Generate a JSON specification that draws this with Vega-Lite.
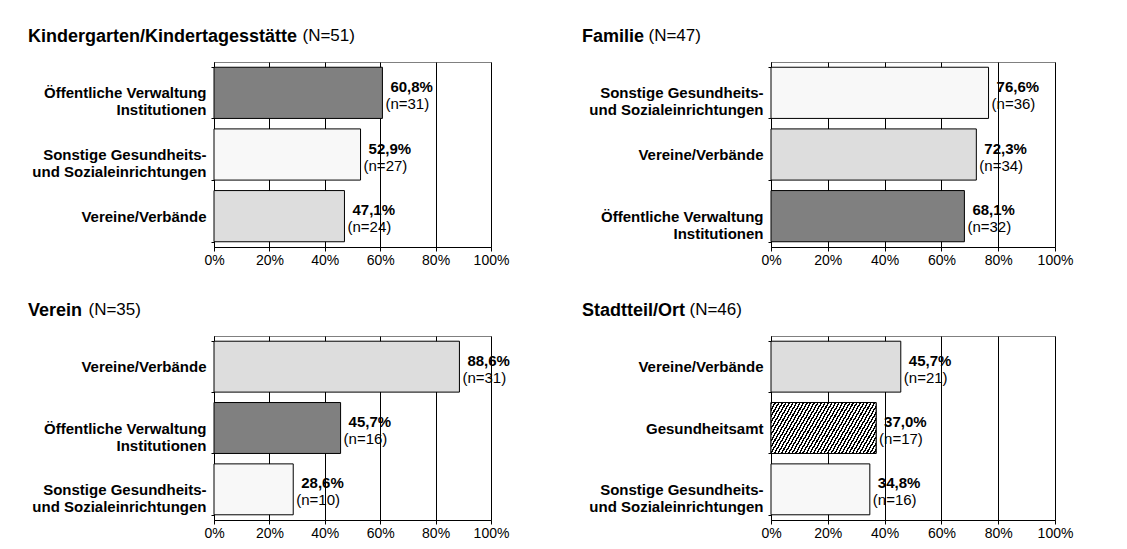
{
  "$schema": "https://vega.github.io/schema/vega-lite/v6.json",
  "background": "white",
  "padding": {"left": 27, "top": 25, "right": 0, "bottom": 0},
  "data": {
    "values": [
      {"panel": "Kindergarten/Kindertagesstätte", "category": "Öffentliche Verwaltung Institutionen", "pct": 60.8, "n": 31},
      {"panel": "Kindergarten/Kindertagesstätte", "category": "Sonstige Gesundheits- und Sozialeinrichtungen", "pct": 52.9, "n": 27},
      {"panel": "Kindergarten/Kindertagesstätte", "category": "Vereine/Verbände", "pct": 47.1, "n": 24},
      {"panel": "Familie", "category": "Sonstige Gesundheits- und Sozialeinrichtungen", "pct": 76.6, "n": 36},
      {"panel": "Familie", "category": "Vereine/Verbände", "pct": 72.3, "n": 34},
      {"panel": "Familie", "category": "Öffentliche Verwaltung Institutionen", "pct": 68.1, "n": 32},
      {"panel": "Verein", "category": "Vereine/Verbände", "pct": 88.6, "n": 31},
      {"panel": "Verein", "category": "Öffentliche Verwaltung Institutionen", "pct": 45.7, "n": 16},
      {"panel": "Verein", "category": "Sonstige Gesundheits- und Sozialeinrichtungen", "pct": 28.6, "n": 10},
      {"panel": "Stadtteil/Ort", "category": "Vereine/Verbände", "pct": 45.7, "n": 21},
      {"panel": "Stadtteil/Ort", "category": "Gesundheitsamt", "pct": 37.0, "n": 17},
      {"panel": "Stadtteil/Ort", "category": "Sonstige Gesundheits- und Sozialeinrichtungen", "pct": 34.8, "n": 16}
    ]
  },
  "columns": 2,
  "bounds": "flush",
  "spacing": {"row": 89, "column": 280},
  "resolve": {"scale": {"x": "independent", "y": "independent"}},
  "concat": [
    {
      "width": 277, "height": 185,
      "title": {"text": "Kindergarten/Kindertagesstätte", "dx": -186},
      "transform": [{"filter": "datum.panel == 'Kindergarten/Kindertagesstätte'"}],
      "encoding": {
        "y": {"field": "category", "type": "nominal", "sort": ["Öffentliche Verwaltung Institutionen", "Sonstige Gesundheits- und Sozialeinrichtungen", "Vereine/Verbände"],
          "scale": {"paddingInner": 0.17, "paddingOuter": 0.085},
          "axis": {"title": "(N=51)", "titleX": 88, "labelExpr": "datum.label == 'Öffentliche Verwaltung Institutionen' ? ['Öffentliche Verwaltung', 'Institutionen'] : datum.label == 'Sonstige Gesundheits- und Sozialeinrichtungen' ? ['Sonstige Gesundheits-', 'und Sozialeinrichtungen'] : datum.label"}},
        "x": {"field": "pct", "type": "quantitative", "scale": {"domain": [0, 100]}, "axis": {"title": null, "values": [0, 20, 40, 60, 80, 100], "labelExpr": "datum.value + '%'"}}
      },
      "layer": [
        {"mark": {"type": "bar", "stroke": "#000", "strokeWidth": 1}, "encoding": {"color": {"field": "category", "type": "nominal", "legend": null, "scale": {"domain": ["Öffentliche Verwaltung Institutionen", "Sonstige Gesundheits- und Sozialeinrichtungen", "Vereine/Verbände", "Gesundheitsamt"], "range": ["#808080", "#f8f8f8", "#dddddd", "#ffffff"]}}}},
        {"mark": {"type": "text", "align": "left", "baseline": "middle", "dx": 8, "dy": -6, "fontSize": 15, "fontWeight": "bold", "color": "#000", "text": {"expr": "replace(format(datum.pct, '.1f'), '.', ',') + '%'"}}},
        {"mark": {"type": "text", "align": "left", "baseline": "middle", "dx": 3, "dy": 11, "fontSize": 15, "color": "#000", "text": {"expr": "'(n=' + datum.n + ')'"}}}
      ]
    },
    {
      "width": 284, "height": 185,
      "title": {"text": "Familie", "dx": -189},
      "transform": [{"filter": "datum.panel == 'Familie'"}],
      "encoding": {
        "y": {"field": "category", "type": "nominal", "sort": ["Sonstige Gesundheits- und Sozialeinrichtungen", "Vereine/Verbände", "Öffentliche Verwaltung Institutionen"],
          "scale": {"paddingInner": 0.17, "paddingOuter": 0.085},
          "axis": {"title": "(N=47)", "titleX": -123, "labelExpr": "datum.label == 'Öffentliche Verwaltung Institutionen' ? ['Öffentliche Verwaltung', 'Institutionen'] : datum.label == 'Sonstige Gesundheits- und Sozialeinrichtungen' ? ['Sonstige Gesundheits-', 'und Sozialeinrichtungen'] : datum.label"}},
        "x": {"field": "pct", "type": "quantitative", "scale": {"domain": [0, 100]}, "axis": {"title": null, "values": [0, 20, 40, 60, 80, 100], "labelExpr": "datum.value + '%'"}}
      },
      "layer": [
        {"mark": {"type": "bar", "stroke": "#000", "strokeWidth": 1}, "encoding": {"color": {"field": "category", "type": "nominal", "legend": null, "scale": {"domain": ["Öffentliche Verwaltung Institutionen", "Sonstige Gesundheits- und Sozialeinrichtungen", "Vereine/Verbände", "Gesundheitsamt"], "range": ["#808080", "#f8f8f8", "#dddddd", "#ffffff"]}}}},
        {"mark": {"type": "text", "align": "left", "baseline": "middle", "dx": 8, "dy": -6, "fontSize": 15, "fontWeight": "bold", "color": "#000", "text": {"expr": "replace(format(datum.pct, '.1f'), '.', ',') + '%'"}}},
        {"mark": {"type": "text", "align": "left", "baseline": "middle", "dx": 3, "dy": 11, "fontSize": 15, "color": "#000", "text": {"expr": "'(n=' + datum.n + ')'"}}}
      ]
    },
    {
      "width": 277, "height": 184,
      "title": {"text": "Verein", "dx": -186},
      "transform": [{"filter": "datum.panel == 'Verein'"}],
      "encoding": {
        "y": {"field": "category", "type": "nominal", "sort": ["Vereine/Verbände", "Öffentliche Verwaltung Institutionen", "Sonstige Gesundheits- und Sozialeinrichtungen"],
          "scale": {"paddingInner": 0.17, "paddingOuter": 0.085},
          "axis": {"title": "(N=35)", "titleX": -126, "labelExpr": "datum.label == 'Öffentliche Verwaltung Institutionen' ? ['Öffentliche Verwaltung', 'Institutionen'] : datum.label == 'Sonstige Gesundheits- und Sozialeinrichtungen' ? ['Sonstige Gesundheits-', 'und Sozialeinrichtungen'] : datum.label"}},
        "x": {"field": "pct", "type": "quantitative", "scale": {"domain": [0, 100]}, "axis": {"title": null, "values": [0, 20, 40, 60, 80, 100], "labelExpr": "datum.value + '%'"}}
      },
      "layer": [
        {"mark": {"type": "bar", "stroke": "#000", "strokeWidth": 1}, "encoding": {"color": {"field": "category", "type": "nominal", "legend": null, "scale": {"domain": ["Öffentliche Verwaltung Institutionen", "Sonstige Gesundheits- und Sozialeinrichtungen", "Vereine/Verbände", "Gesundheitsamt"], "range": ["#808080", "#f8f8f8", "#dddddd", "#ffffff"]}}}},
        {"mark": {"type": "text", "align": "left", "baseline": "middle", "dx": 8, "dy": -6, "fontSize": 15, "fontWeight": "bold", "color": "#000", "text": {"expr": "replace(format(datum.pct, '.1f'), '.', ',') + '%'"}}},
        {"mark": {"type": "text", "align": "left", "baseline": "middle", "dx": 3, "dy": 11, "fontSize": 15, "color": "#000", "text": {"expr": "'(n=' + datum.n + ')'"}}}
      ]
    },
    {
      "width": 284, "height": 184,
      "title": {"text": "Stadtteil/Ort", "dx": -189},
      "transform": [{"filter": "datum.panel == 'Stadtteil/Ort'"}],
      "encoding": {
        "y": {"field": "category", "type": "nominal", "sort": ["Vereine/Verbände", "Gesundheitsamt", "Sonstige Gesundheits- und Sozialeinrichtungen"],
          "scale": {"paddingInner": 0.17, "paddingOuter": 0.085},
          "axis": {"title": "(N=46)", "titleX": -82, "labelExpr": "datum.label == 'Öffentliche Verwaltung Institutionen' ? ['Öffentliche Verwaltung', 'Institutionen'] : datum.label == 'Sonstige Gesundheits- und Sozialeinrichtungen' ? ['Sonstige Gesundheits-', 'und Sozialeinrichtungen'] : datum.label"}},
        "x": {"field": "pct", "type": "quantitative", "scale": {"domain": [0, 100]}, "axis": {"title": null, "values": [0, 20, 40, 60, 80, 100], "labelExpr": "datum.value + '%'"}}
      },
      "layer": [
        {"mark": {"type": "bar", "stroke": "#000", "strokeWidth": 1}, "encoding": {"color": {"field": "category", "type": "nominal", "legend": null, "scale": {"domain": ["Öffentliche Verwaltung Institutionen", "Sonstige Gesundheits- und Sozialeinrichtungen", "Vereine/Verbände", "Gesundheitsamt"], "range": ["#808080", "#f8f8f8", "#dddddd", "#ffffff"]}}}},
        {"transform": [{"filter": "datum.category == 'Gesundheitsamt'"}],
         "mark": {"type": "bar", "stroke": "#000", "strokeWidth": 1, "fill": {"gradient": "linear", "x1": 0, "y1": 0, "x2": 1.19, "y2": 0.333, "stops": [
          {"offset": 0, "color": "#000"}, {"offset": 0.0118, "color": "#000"}, {"offset": 0.0118, "color": "#fff"}, {"offset": 0.0263, "color": "#fff"},
          {"offset": 0.0263, "color": "#000"}, {"offset": 0.0382, "color": "#000"}, {"offset": 0.0382, "color": "#fff"}, {"offset": 0.0526, "color": "#fff"},
          {"offset": 0.0526, "color": "#000"}, {"offset": 0.0645, "color": "#000"}, {"offset": 0.0645, "color": "#fff"}, {"offset": 0.0789, "color": "#fff"},
          {"offset": 0.0789, "color": "#000"}, {"offset": 0.0908, "color": "#000"}, {"offset": 0.0908, "color": "#fff"}, {"offset": 0.1053, "color": "#fff"},
          {"offset": 0.1053, "color": "#000"}, {"offset": 0.1171, "color": "#000"}, {"offset": 0.1171, "color": "#fff"}, {"offset": 0.1316, "color": "#fff"},
          {"offset": 0.1316, "color": "#000"}, {"offset": 0.1434, "color": "#000"}, {"offset": 0.1434, "color": "#fff"}, {"offset": 0.1579, "color": "#fff"},
          {"offset": 0.1579, "color": "#000"}, {"offset": 0.1697, "color": "#000"}, {"offset": 0.1697, "color": "#fff"}, {"offset": 0.1842, "color": "#fff"},
          {"offset": 0.1842, "color": "#000"}, {"offset": 0.1961, "color": "#000"}, {"offset": 0.1961, "color": "#fff"}, {"offset": 0.2105, "color": "#fff"},
          {"offset": 0.2105, "color": "#000"}, {"offset": 0.2224, "color": "#000"}, {"offset": 0.2224, "color": "#fff"}, {"offset": 0.2368, "color": "#fff"},
          {"offset": 0.2368, "color": "#000"}, {"offset": 0.2487, "color": "#000"}, {"offset": 0.2487, "color": "#fff"}, {"offset": 0.2632, "color": "#fff"},
          {"offset": 0.2632, "color": "#000"}, {"offset": 0.2750, "color": "#000"}, {"offset": 0.2750, "color": "#fff"}, {"offset": 0.2895, "color": "#fff"},
          {"offset": 0.2895, "color": "#000"}, {"offset": 0.3013, "color": "#000"}, {"offset": 0.3013, "color": "#fff"}, {"offset": 0.3158, "color": "#fff"},
          {"offset": 0.3158, "color": "#000"}, {"offset": 0.3276, "color": "#000"}, {"offset": 0.3276, "color": "#fff"}, {"offset": 0.3421, "color": "#fff"},
          {"offset": 0.3421, "color": "#000"}, {"offset": 0.3539, "color": "#000"}, {"offset": 0.3539, "color": "#fff"}, {"offset": 0.3684, "color": "#fff"},
          {"offset": 0.3684, "color": "#000"}, {"offset": 0.3803, "color": "#000"}, {"offset": 0.3803, "color": "#fff"}, {"offset": 0.3947, "color": "#fff"},
          {"offset": 0.3947, "color": "#000"}, {"offset": 0.4066, "color": "#000"}, {"offset": 0.4066, "color": "#fff"}, {"offset": 0.4211, "color": "#fff"},
          {"offset": 0.4211, "color": "#000"}, {"offset": 0.4329, "color": "#000"}, {"offset": 0.4329, "color": "#fff"}, {"offset": 0.4474, "color": "#fff"},
          {"offset": 0.4474, "color": "#000"}, {"offset": 0.4592, "color": "#000"}, {"offset": 0.4592, "color": "#fff"}, {"offset": 0.4737, "color": "#fff"},
          {"offset": 0.4737, "color": "#000"}, {"offset": 0.4855, "color": "#000"}, {"offset": 0.4855, "color": "#fff"}, {"offset": 0.5, "color": "#fff"},
          {"offset": 0.5, "color": "#000"}, {"offset": 0.5118, "color": "#000"}, {"offset": 0.5118, "color": "#fff"}, {"offset": 0.5263, "color": "#fff"},
          {"offset": 0.5263, "color": "#000"}, {"offset": 0.5382, "color": "#000"}, {"offset": 0.5382, "color": "#fff"}, {"offset": 0.5526, "color": "#fff"},
          {"offset": 0.5526, "color": "#000"}, {"offset": 0.5645, "color": "#000"}, {"offset": 0.5645, "color": "#fff"}, {"offset": 0.5789, "color": "#fff"},
          {"offset": 0.5789, "color": "#000"}, {"offset": 0.5908, "color": "#000"}, {"offset": 0.5908, "color": "#fff"}, {"offset": 0.6053, "color": "#fff"},
          {"offset": 0.6053, "color": "#000"}, {"offset": 0.6171, "color": "#000"}, {"offset": 0.6171, "color": "#fff"}, {"offset": 0.6316, "color": "#fff"},
          {"offset": 0.6316, "color": "#000"}, {"offset": 0.6434, "color": "#000"}, {"offset": 0.6434, "color": "#fff"}, {"offset": 0.6579, "color": "#fff"},
          {"offset": 0.6579, "color": "#000"}, {"offset": 0.6697, "color": "#000"}, {"offset": 0.6697, "color": "#fff"}, {"offset": 0.6842, "color": "#fff"},
          {"offset": 0.6842, "color": "#000"}, {"offset": 0.6961, "color": "#000"}, {"offset": 0.6961, "color": "#fff"}, {"offset": 0.7105, "color": "#fff"},
          {"offset": 0.7105, "color": "#000"}, {"offset": 0.7224, "color": "#000"}, {"offset": 0.7224, "color": "#fff"}, {"offset": 0.7368, "color": "#fff"},
          {"offset": 0.7368, "color": "#000"}, {"offset": 0.7487, "color": "#000"}, {"offset": 0.7487, "color": "#fff"}, {"offset": 0.7632, "color": "#fff"},
          {"offset": 0.7632, "color": "#000"}, {"offset": 0.7750, "color": "#000"}, {"offset": 0.7750, "color": "#fff"}, {"offset": 0.7895, "color": "#fff"},
          {"offset": 0.7895, "color": "#000"}, {"offset": 0.8013, "color": "#000"}, {"offset": 0.8013, "color": "#fff"}, {"offset": 0.8158, "color": "#fff"},
          {"offset": 0.8158, "color": "#000"}, {"offset": 0.8276, "color": "#000"}, {"offset": 0.8276, "color": "#fff"}, {"offset": 0.8421, "color": "#fff"},
          {"offset": 0.8421, "color": "#000"}, {"offset": 0.8539, "color": "#000"}, {"offset": 0.8539, "color": "#fff"}, {"offset": 0.8684, "color": "#fff"},
          {"offset": 0.8684, "color": "#000"}, {"offset": 0.8803, "color": "#000"}, {"offset": 0.8803, "color": "#fff"}, {"offset": 0.8947, "color": "#fff"},
          {"offset": 0.8947, "color": "#000"}, {"offset": 0.9066, "color": "#000"}, {"offset": 0.9066, "color": "#fff"}, {"offset": 0.9211, "color": "#fff"},
          {"offset": 0.9211, "color": "#000"}, {"offset": 0.9329, "color": "#000"}, {"offset": 0.9329, "color": "#fff"}, {"offset": 0.9474, "color": "#fff"},
          {"offset": 0.9474, "color": "#000"}, {"offset": 0.9592, "color": "#000"}, {"offset": 0.9592, "color": "#fff"}, {"offset": 0.9737, "color": "#fff"},
          {"offset": 0.9737, "color": "#000"}, {"offset": 0.9855, "color": "#000"}, {"offset": 0.9855, "color": "#fff"}, {"offset": 1, "color": "#fff"}
         ]}}},
        {"mark": {"type": "text", "align": "left", "baseline": "middle", "dx": 8, "dy": -6, "fontSize": 15, "fontWeight": "bold", "color": "#000", "text": {"expr": "replace(format(datum.pct, '.1f'), '.', ',') + '%'"}}},
        {"mark": {"type": "text", "align": "left", "baseline": "middle", "dx": 3, "dy": 11, "fontSize": 15, "color": "#000", "text": {"expr": "'(n=' + datum.n + ')'"}}}
      ]
    }
  ],
  "config": {
    "font": "Liberation Sans",
    "view": {"stroke": "#808080", "strokeWidth": 1},
    "title": {"anchor": "start", "frame": "group", "fontSize": 18, "fontWeight": "bold", "color": "#000", "baseline": "alphabetic", "offset": -20},
    "axis": {"labelColor": "#000", "domainColor": "#000", "tickColor": "#000", "titleColor": "#000", "labelFont": "Liberation Sans", "titleFont": "Liberation Sans"},
    "axisX": {"grid": true, "gridColor": "#000", "gridOpacity": 1, "tickSize": 4, "labelFontSize": 14, "labelFlush": false, "labelPadding": 2, "labelOverlap": false},
    "axisY": {"titleAngle": 0, "titleAlign": "left", "titleBaseline": "alphabetic", "titleY": -22, "titleFontSize": 17, "titleFontWeight": "normal", "labelFontSize": 15, "labelFontWeight": "bold", "labelLimit": 400, "labelPadding": 5, "tickSize": 3, "tickBand": "extent", "labelLineHeight": 17}
  }
}
